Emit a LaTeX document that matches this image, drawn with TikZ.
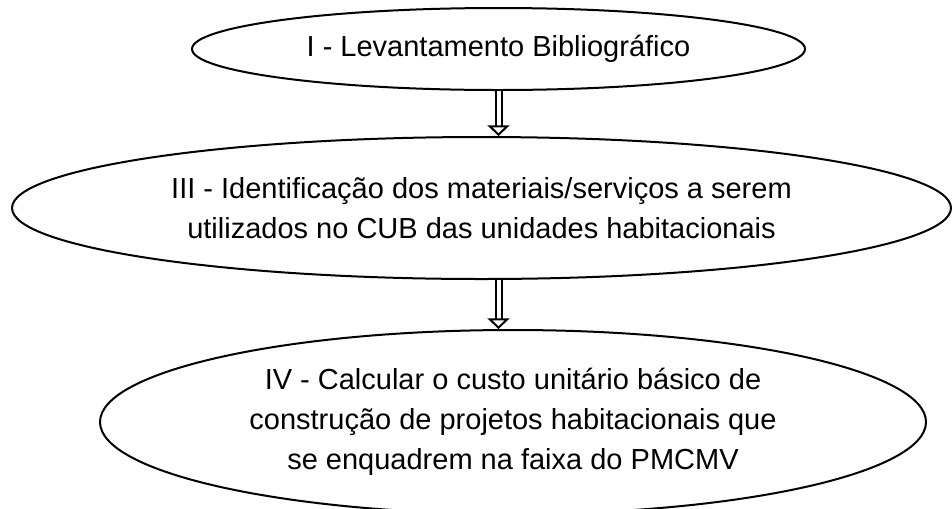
\documentclass[tikz,border=0pt]{standalone}
\usepackage{fontspec}
\setmainfont{Liberation Sans}
\usetikzlibrary{shapes.geometric,arrows.meta}

\begin{document}
\begin{tikzpicture}[x=0.75pt, y=-0.75pt,
	etapa/.style={draw, ellipse, line width=1.5pt, inner sep=0pt, align=center,
		font=\fontsize{21.75}{30}\selectfont},
	seta/.style={double, double distance=3pt, line width=1.5pt,
		-{Triangle[open, width=16.5pt, length=8pt, line width'=1.5pt]}}]
	\useasboundingbox (0,0) rectangle (952,508);

	\node[etapa, minimum width=459.75pt, minimum height=61.5pt] (lev) at (498.5,49)
		{I - Levantamento Bibliográfico};
	\node[etapa, minimum width=704.25pt, minimum height=106.5pt] (ident) at (481.5,208)
		{III - Identificação dos materiais/serviços a serem\\utilizados no CUB das unidades habitacionais};
	\node[etapa, minimum width=619.5pt, minimum height=138pt] (calc) at (513,422)
		{IV - Calcular o custo unitário básico de\\construção de projetos habitacionais que\\se enquadrem na faixa do PMCMV};

	\draw[seta] (lev.south) -- (lev.south |- ident.north);
	\draw[seta] (lev.south |- ident.south) -- (lev.south |- calc.north);
\end{tikzpicture}
\end{document}
